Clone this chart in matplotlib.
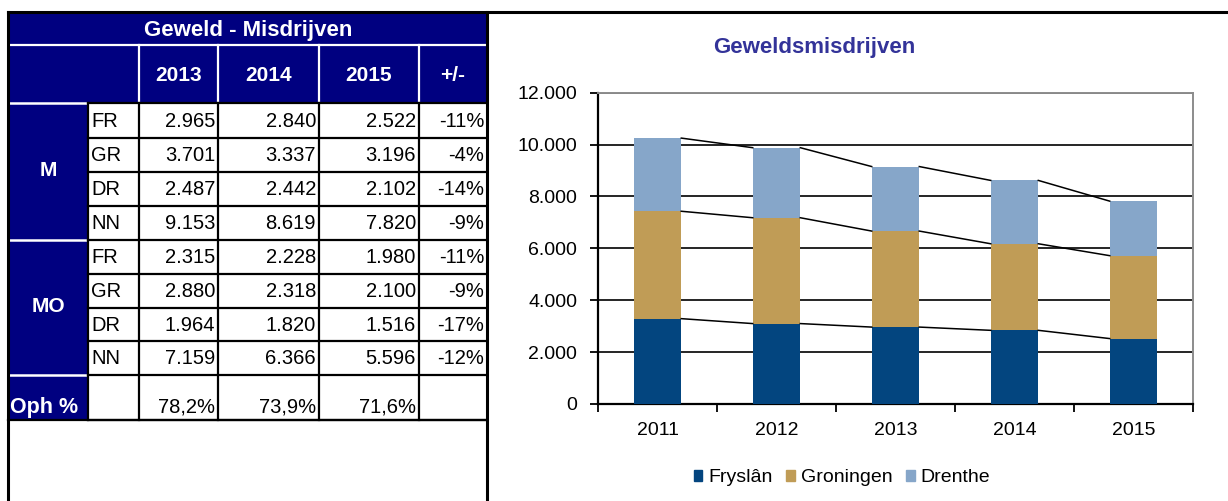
import matplotlib.pyplot as plt
from matplotlib.patches import Rectangle
from matplotlib.ticker import FuncFormatter, MultipleLocator

plt.rcParams['font.family'] = ['Liberation Sans', 'DejaVu Sans']

# chart data (Geweldsmisdrijven per provincie)
years = ['2011', '2012', '2013', '2014', '2015']
fryslan = [3290, 3100, 2965, 2840, 2522]
groningen = [4140, 4080, 3701, 3337, 3196]
drenthe = [2820, 2700, 2487, 2442, 2102]

# table data
table_head = ['2013', '2014', '2015', '+/-']
regions = ['FR', 'GR', 'DR', 'NN']
m_values = [[2965, 2840, 2522], [3701, 3337, 3196], [2487, 2442, 2102], [9153, 8619, 7820]]
m_change = ['-11%', '-4%', '-14%', '-9%']
mo_values = [[2315, 2228, 1980], [2880, 2318, 2100], [1964, 1820, 1516], [7159, 6366, 5596]]
mo_change = ['-11%', '-9%', '-17%', '-12%']
oph = ['78,2%', '73,9%', '71,6%']

navy = '#000080'
c_fr, c_gr, c_dr = '#03457f', '#c09c56', '#86a6c9'


def nl(v):
    # Dutch thousands separator
    return f'{v:,.0f}'.replace(',', '.')


fig = plt.figure(figsize=(12.28, 5.01), dpi=100)

# ---------- table, drawn in pixel coordinates ----------
tb = fig.add_axes([0, 0, 1, 1])
tb.set_xlim(0, 1228)
tb.set_ylim(501, 0)
tb.axis('off')

cols = [8, 88, 139, 218, 319, 419, 487]
rows = [103, 137.5, 171.5, 205.5, 239.5, 273.5, 307.5, 341, 375, 420]

tb.add_patch(Rectangle((8, 12), 479, 91, color=navy, lw=0))
tb.add_patch(Rectangle((8, 103), 80, 317, color=navy, lw=0))

# white separators inside the navy parts
tb.plot([8, 487], [45, 45], color='white', lw=1.6)
for x in cols[2:6]:
    tb.plot([x, x], [45, 103], color='white', lw=1.6)
for y in [103, 239.5, 375]:
    tb.plot([9, 87], [y, y], color='white', lw=1.8)

# black cell grid
for y in rows:
    tb.plot([88, 487], [y, y], color='k', lw=1.6)
for x in cols[1:6]:
    tb.plot([x, x], [103, 420], color='k', lw=1.6)
tb.plot([8, 487], [420, 420], color='k', lw=1.6)

# outer frame
tb.plot([8, 1228], [12, 12], color='k', lw=2.2)
tb.plot([8, 8], [12, 501], color='k', lw=2.2)
tb.plot([487, 487], [12, 501], color='k', lw=2.2)

tb.text(248, 30, 'Geweld - Misdrijven', ha='center', va='center', color='white',
        fontsize=16, fontweight='bold')
for i, lab in enumerate(table_head):
    tb.text((cols[i + 2] + cols[i + 3]) / 2, 75, lab, ha='center', va='center',
            color='white', fontsize=15, fontweight='bold')

k = 0
for vals, chg in [(m_values, m_change), (mo_values, mo_change)]:
    for r, reg in enumerate(regions):
        yc = (rows[k] + rows[k + 1]) / 2 + 1
        tb.text(cols[1] + 3, yc, reg, ha='left', va='center', fontsize=14.5)
        for j, v in enumerate(vals[r]):
            tb.text(cols[j + 3] - 3, yc, nl(v), ha='right', va='center', fontsize=14.5)
        tb.text(cols[6] - 3, yc, chg[r], ha='right', va='center', fontsize=14.5)
        k += 1

tb.text(48, 171, 'M', ha='center', va='center', color='white', fontsize=15, fontweight='bold')
tb.text(48, 307, 'MO', ha='center', va='center', color='white', fontsize=15, fontweight='bold')
tb.text(10, 407, 'Oph %', ha='left', va='center', color='white', fontsize=15.5, fontweight='bold')
for j, v in enumerate(oph):
    tb.text(cols[j + 3] - 3, 407, v, ha='right', va='center', fontsize=14.5)

# ---------- stacked bar chart ----------
ax = fig.add_axes([598 / 1228, 97 / 501, 595 / 1228, 311.3 / 501])
x = list(range(len(years)))
w = 0.4
top1 = fryslan
top2 = [a + b for a, b in zip(fryslan, groningen)]
top3 = [a + b for a, b in zip(top2, drenthe)]
ax.bar(x, fryslan, w, color=c_fr, zorder=3)
ax.bar(x, groningen, w, bottom=top1, color=c_gr, zorder=3)
ax.bar(x, drenthe, w, bottom=top2, color=c_dr, zorder=3)

# series lines between the bars
for tops in (top1, top2, top3):
    for i in range(len(x) - 1):
        ax.plot([x[i] + w / 2, x[i + 1] - w / 2], [tops[i], tops[i + 1]], color='k', lw=1.1, zorder=3)

ax.set_xlim(-0.5, 4.5)
ax.set_ylim(0, 12000)
ax.yaxis.set_major_locator(MultipleLocator(2000))
ax.yaxis.set_major_formatter(FuncFormatter(lambda v, p: nl(v)))
ax.set_xticks(x, years)
ax.set_xticks([i - 0.5 for i in range(len(years) + 1)], minor=True)
ax.tick_params(axis='x', which='major', length=0, pad=13, labelsize=14)
ax.tick_params(axis='x', which='minor', length=6, width=1.3, direction='out')
ax.tick_params(axis='y', length=6, width=1.3, pad=9, labelsize=14)
ax.grid(axis='y', color='k', lw=1.2, zorder=1)
ax.set_axisbelow(True)
for s in ['left', 'bottom']:
    ax.spines[s].set_linewidth(1.6)
for s in ['top', 'right']:
    ax.spines[s].set_color('#8c8c8c')
    ax.spines[s].set_linewidth(1.4)

fig.text(814 / 1228, 1 - 47 / 501, 'Geweldsmisdrijven', ha='center', va='center',
         color='#333399', fontsize=16, fontweight='bold')

handles = [Rectangle((0, 0), 1, 1, color=c) for c in (c_fr, c_gr, c_dr)]
fig.legend(handles, ['Fryslân', 'Groningen', 'Drenthe'], loc='center',
           bbox_to_anchor=(842 / 1228, 1 - 478 / 501), ncol=3, frameon=False,
           fontsize=14, handlelength=0.45, handleheight=0.45, handletextpad=0.3,
           columnspacing=0.7)

fig.savefig('out.png', dpi=100)
